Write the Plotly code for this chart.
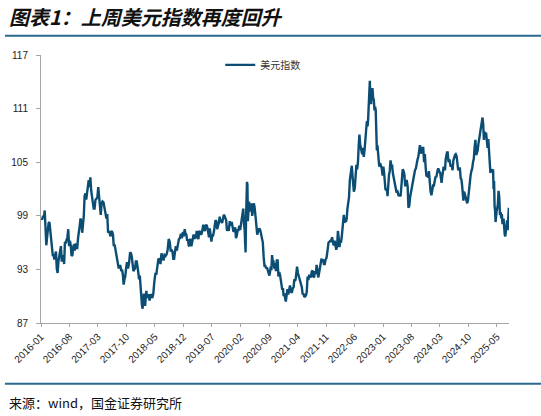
import numpy as np
import pandas as pd
import plotly.graph_objects as go

# 美元指数, roughly weekly values, one list per month
dxy_2016 = [[98.7, 98.6, 99.0, 98.8, 99.6], [97.0, 95.7, 96.6, 97.6, 98.2], [98.3, 97.3, 96.0, 95.4, 94.6],
            [94.6, 94.1, 94.6, 95.0, 93.1], [92.6, 93.9, 94.6, 95.3, 95.6], [94.0, 94.0, 94.6, 93.6, 96.1],
            [95.9, 96.3, 96.6, 97.5, 95.6], [96.2, 95.7, 94.5, 94.6, 95.5], [95.8, 95.1, 95.9, 95.4, 95.4],
            [96.5, 97.0, 97.9, 98.7, 98.3], [97.1, 97.9, 99.0, 101.2, 101.5], [100.8, 101.6, 102.9, 103.0, 102.2]]
dxy_2017 = [[103.3, 101.8, 101.2, 100.6, 99.8], [99.8, 100.8, 100.9, 101.1], [102.2, 101.3, 100.3, 99.1, 100.4],
            [100.6, 100.5, 99.8, 99.0], [98.7, 99.2, 97.1, 97.3, 97.0], [96.7, 97.3, 97.2, 96.9, 95.6],
            [95.8, 95.2, 94.6, 94.0, 93.2], [93.1, 93.4, 93.4, 92.8, 93.0], [92.4, 91.3, 91.9, 92.2, 93.1],
            [93.8, 93.1, 93.7, 94.9], [94.8, 94.4, 93.6, 92.8, 93.0], [93.1, 93.9, 93.9, 93.3, 92.1]]
dxy_2018 = [[91.9, 92.3, 90.9, 90.5, 89.1, 88.6], [89.2, 90.3, 89.8, 88.9, 89.8, 90.6], [89.8, 90.1, 90.1, 89.5, 90.2],
            [90.1, 89.8, 90.3, 91.6], [92.5, 92.5, 93.6, 94.2], [94.1, 93.6, 94.8, 94.5],
            [94.0, 94.6, 94.5, 94.7], [95.2, 96.4, 96.1, 95.0], [95.2, 95.0, 94.2, 94.2, 95.1],
            [95.6, 95.1, 95.7, 96.4], [96.5, 97.0, 96.5, 97.2], [96.7, 97.5, 97.0, 96.9, 96.2]]
dxy_2019 = [[96.4, 95.7, 95.6, 96.3, 96.4, 95.6], [96.0, 96.6, 96.9, 96.5, 96.5], [96.6, 97.3, 96.6, 96.4, 97.3],
            [97.2, 96.9, 97.0, 97.4, 98.0], [97.5, 97.3, 97.9, 98.0, 97.7], [96.7, 96.6, 97.6, 96.2, 96.1],
            [96.8, 96.8, 97.2, 97.7, 98.5], [98.4, 97.5, 97.9, 98.2, 98.9], [98.4, 98.4, 98.2, 98.6, 99.1],
            [99.0, 98.8, 98.5, 97.3, 97.8], [97.3, 98.4, 97.9, 98.3], [97.7, 97.2, 97.4, 97.7, 96.5]]
dxy_2020 = [[96.8, 97.4, 97.4, 97.9, 97.4], [98.0, 98.7, 99.1, 99.8, 98.1],
            [97.4, 96.0, 94.9, 98.7, 101.0, 102.8, 102.5, 98.4, 99.0],
            [100.6, 99.5, 99.8, 100.4, 99.0], [99.7, 100.4, 99.9, 99.0, 98.4], [96.9, 97.3, 97.6, 97.4],
            [96.9, 96.6, 96.0, 94.4, 93.4], [93.4, 93.1, 93.2, 92.9, 92.4], [92.3, 92.7, 93.3, 92.9, 94.6, 93.9],
            [93.9, 93.1, 93.7, 92.8, 94.0], [94.0, 92.2, 92.7, 92.4, 91.8], [91.1, 90.7, 90.9, 90.0, 90.3, 89.9]]
dxy_2021 = [[89.4, 90.1, 90.8, 90.2, 90.6], [91.2, 90.5, 90.4, 90.9], [91.0, 91.9, 91.7, 91.9, 92.8, 93.3],
            [92.6, 92.2, 91.5, 91.3], [91.0, 90.2, 90.3, 89.9, 90.0], [90.1, 90.5, 92.2, 91.8, 92.4],
            [92.2, 92.1, 92.7, 92.9, 92.2], [92.1, 92.8, 92.5, 93.5, 92.7], [92.1, 92.6, 93.2, 93.3, 94.2],
            [94.0, 94.1, 93.6, 93.6, 94.1], [94.3, 95.1, 96.0, 96.1], [96.2, 96.1, 96.6, 96.0, 95.7]]
dxy_2022 = [[96.2, 95.7, 95.2, 95.6, 97.3], [96.5, 95.5, 96.1, 96.0, 96.6], [97.6, 98.7, 99.1, 98.2, 98.8, 98.3],
            [98.6, 99.8, 100.5, 101.1, 103.0], [103.7, 104.6, 103.0, 101.7], [102.1, 104.2, 104.7, 104.2, 105.1],
            [106.9, 108.1, 107.0, 106.7, 106.5, 105.9], [106.6, 105.6, 106.4, 108.2, 108.8],
            [109.6, 109.0, 109.8, 111.2, 113.2, 114.1, 112.1], [111.5, 112.8, 113.3, 112.2, 112.0, 110.8],
            [111.2, 110.8, 108.2, 106.3, 106.9, 106.0, 105.0], [104.5, 104.9, 104.7, 104.3, 103.5]]
dxy_2023 = [[104.5, 103.9, 102.2, 102.0, 101.9, 102.1], [101.2, 103.0, 103.6, 104.0, 105.2],
            [104.6, 104.6, 103.7, 103.1, 102.5], [102.1, 101.6, 101.7, 101.3], [101.3, 101.2, 102.7, 104.2],
            [104.0, 103.6, 102.3, 102.9, 102.9], [102.3, 99.9, 100.1, 101.1, 101.7], [102.0, 102.8, 103.4, 104.1],
            [104.3, 105.1, 105.3, 105.6, 106.2], [106.9, 106.0, 106.1, 106.6, 106.6],
            [105.0, 105.9, 104.4, 103.4, 103.5], [103.3, 104.0, 102.6, 101.7, 101.3]]
dxy_2024 = [[102.2, 102.4, 102.4, 103.3, 103.4], [103.3, 103.9, 104.1, 104.3, 104.0, 103.9],
            [103.8, 102.7, 102.7, 103.4, 104.4, 104.5], [104.3, 104.1, 105.3, 106.0, 106.1, 106.1],
            [105.0, 105.3, 104.5, 104.7], [104.1, 105.2, 105.6, 105.8, 105.9], [105.7, 104.9, 104.1, 104.3, 104.3],
            [103.2, 103.1, 102.5, 101.4, 100.7, 101.7], [101.2, 101.1, 100.7, 100.4, 100.8],
            [101.9, 102.5, 103.5, 104.0, 104.3], [105.0, 105.4, 106.7, 107.5, 105.8],
            [106.0, 106.3, 107.0, 107.8, 108.0, 108.5]]
dxy_2025 = [[108.9, 109.6, 110.0, 109.3, 107.5, 108.4], [108.0, 108.3, 106.7, 106.6, 107.6],
            [105.7, 104.0, 103.8, 104.1, 104.2, 104.0], [104.2, 102.0, 102.9, 100.1, 99.6, 98.3, 99.4, 99.5],
            [99.8, 100.3, 101.8, 101.1, 99.1, 99.4], [98.7, 99.2, 98.2, 98.2, 98.7, 97.4, 96.9],
            [96.7, 97.4, 97.9, 98.5, 97.4, 98.7, 99.9]]

years = {2016: dxy_2016, 2017: dxy_2017, 2018: dxy_2018, 2019: dxy_2019, 2020: dxy_2020,
         2021: dxy_2021, 2022: dxy_2022, 2023: dxy_2023, 2024: dxy_2024, 2025: dxy_2025}

dates = []
values = []
for yr, months in years.items():
    for m, vals in enumerate(months):
        start = pd.Timestamp(yr, m + 1, 1)
        k = len(vals)
        offs = (np.arange(k) + 0.5) / k * start.days_in_month
        dates += list(start + pd.to_timedelta(offs, unit="D"))
        values += vals

ytick_vals = [87, 93, 99, 105, 111, 117]

line_col = "#0b4d73"
rule_col = "#2b6a8e"
axis_col = "#a6a6a6"

fig = go.Figure()
fig.add_trace(go.Scatter(x=dates, y=values, mode="lines", name="美元指数",
                         line=dict(color=line_col, width=2.4)))

fig.update_layout(
    width=541, height=416,
    margin=dict(l=41, r=32, t=55, b=93),
    paper_bgcolor="white", plot_bgcolor="white",
    font=dict(family="Liberation Sans, Arial", size=10, color="#222"),
    showlegend=True,
    legend=dict(orientation="h", x=0.383, y=0.963, xanchor="left", yanchor="middle",
                font=dict(family="Noto Sans CJK SC", size=10, color="#333"),
                bgcolor="rgba(0,0,0,0)", itemwidth=30),
)
fig.update_xaxes(
    range=["2016-01-01", "2025-07-31"], tickformat="%Y-%m", tick0="2016-01-01", dtick="M7",
    tickangle=-45, showgrid=False, showline=True, linecolor=axis_col, linewidth=1,
    ticks="outside", ticklen=3, tickcolor=axis_col, tickfont=dict(size=10, color="#222"),
)
fig.update_yaxes(
    range=[87, 117], tickvals=ytick_vals, showgrid=False, showline=True, linecolor=axis_col,
    linewidth=1, ticks="outside", ticklen=4, tickcolor=axis_col, zeroline=False,
    ticklabelstandoff=6, tickfont=dict(size=10, color="#222"),
)

# title, rules and source note around the plot
fig.add_annotation(text="<b><i>图表1：上周美元指数再度回升</i></b>", xref="paper", yref="paper",
                   x=-0.072, y=1.142, xanchor="left", yanchor="middle", showarrow=False,
                   font=dict(family="Noto Sans CJK SC", size=20, color="#111"))
fig.add_shape(type="line", xref="paper", yref="paper", x0=-0.077, x1=1.07, y0=1.072, y1=1.072,
              line=dict(color=rule_col, width=2))
fig.add_shape(type="line", xref="paper", yref="paper", x0=-0.077, x1=1.07, y0=-0.227, y1=-0.227,
              line=dict(color=rule_col, width=2))
fig.add_annotation(text="来源：wind，国金证券研究所", xref="paper", yref="paper",
                   x=-0.072, y=-0.295, xanchor="left", yanchor="middle", showarrow=False,
                   font=dict(family="Noto Sans CJK SC", size=13, color="#111"))

# drop the default body margin so the figure sits at the window's top-left corner
fig.write_html("out.html", config={"displayModeBar": False},
               post_script="document.body.style.margin='0px';")
